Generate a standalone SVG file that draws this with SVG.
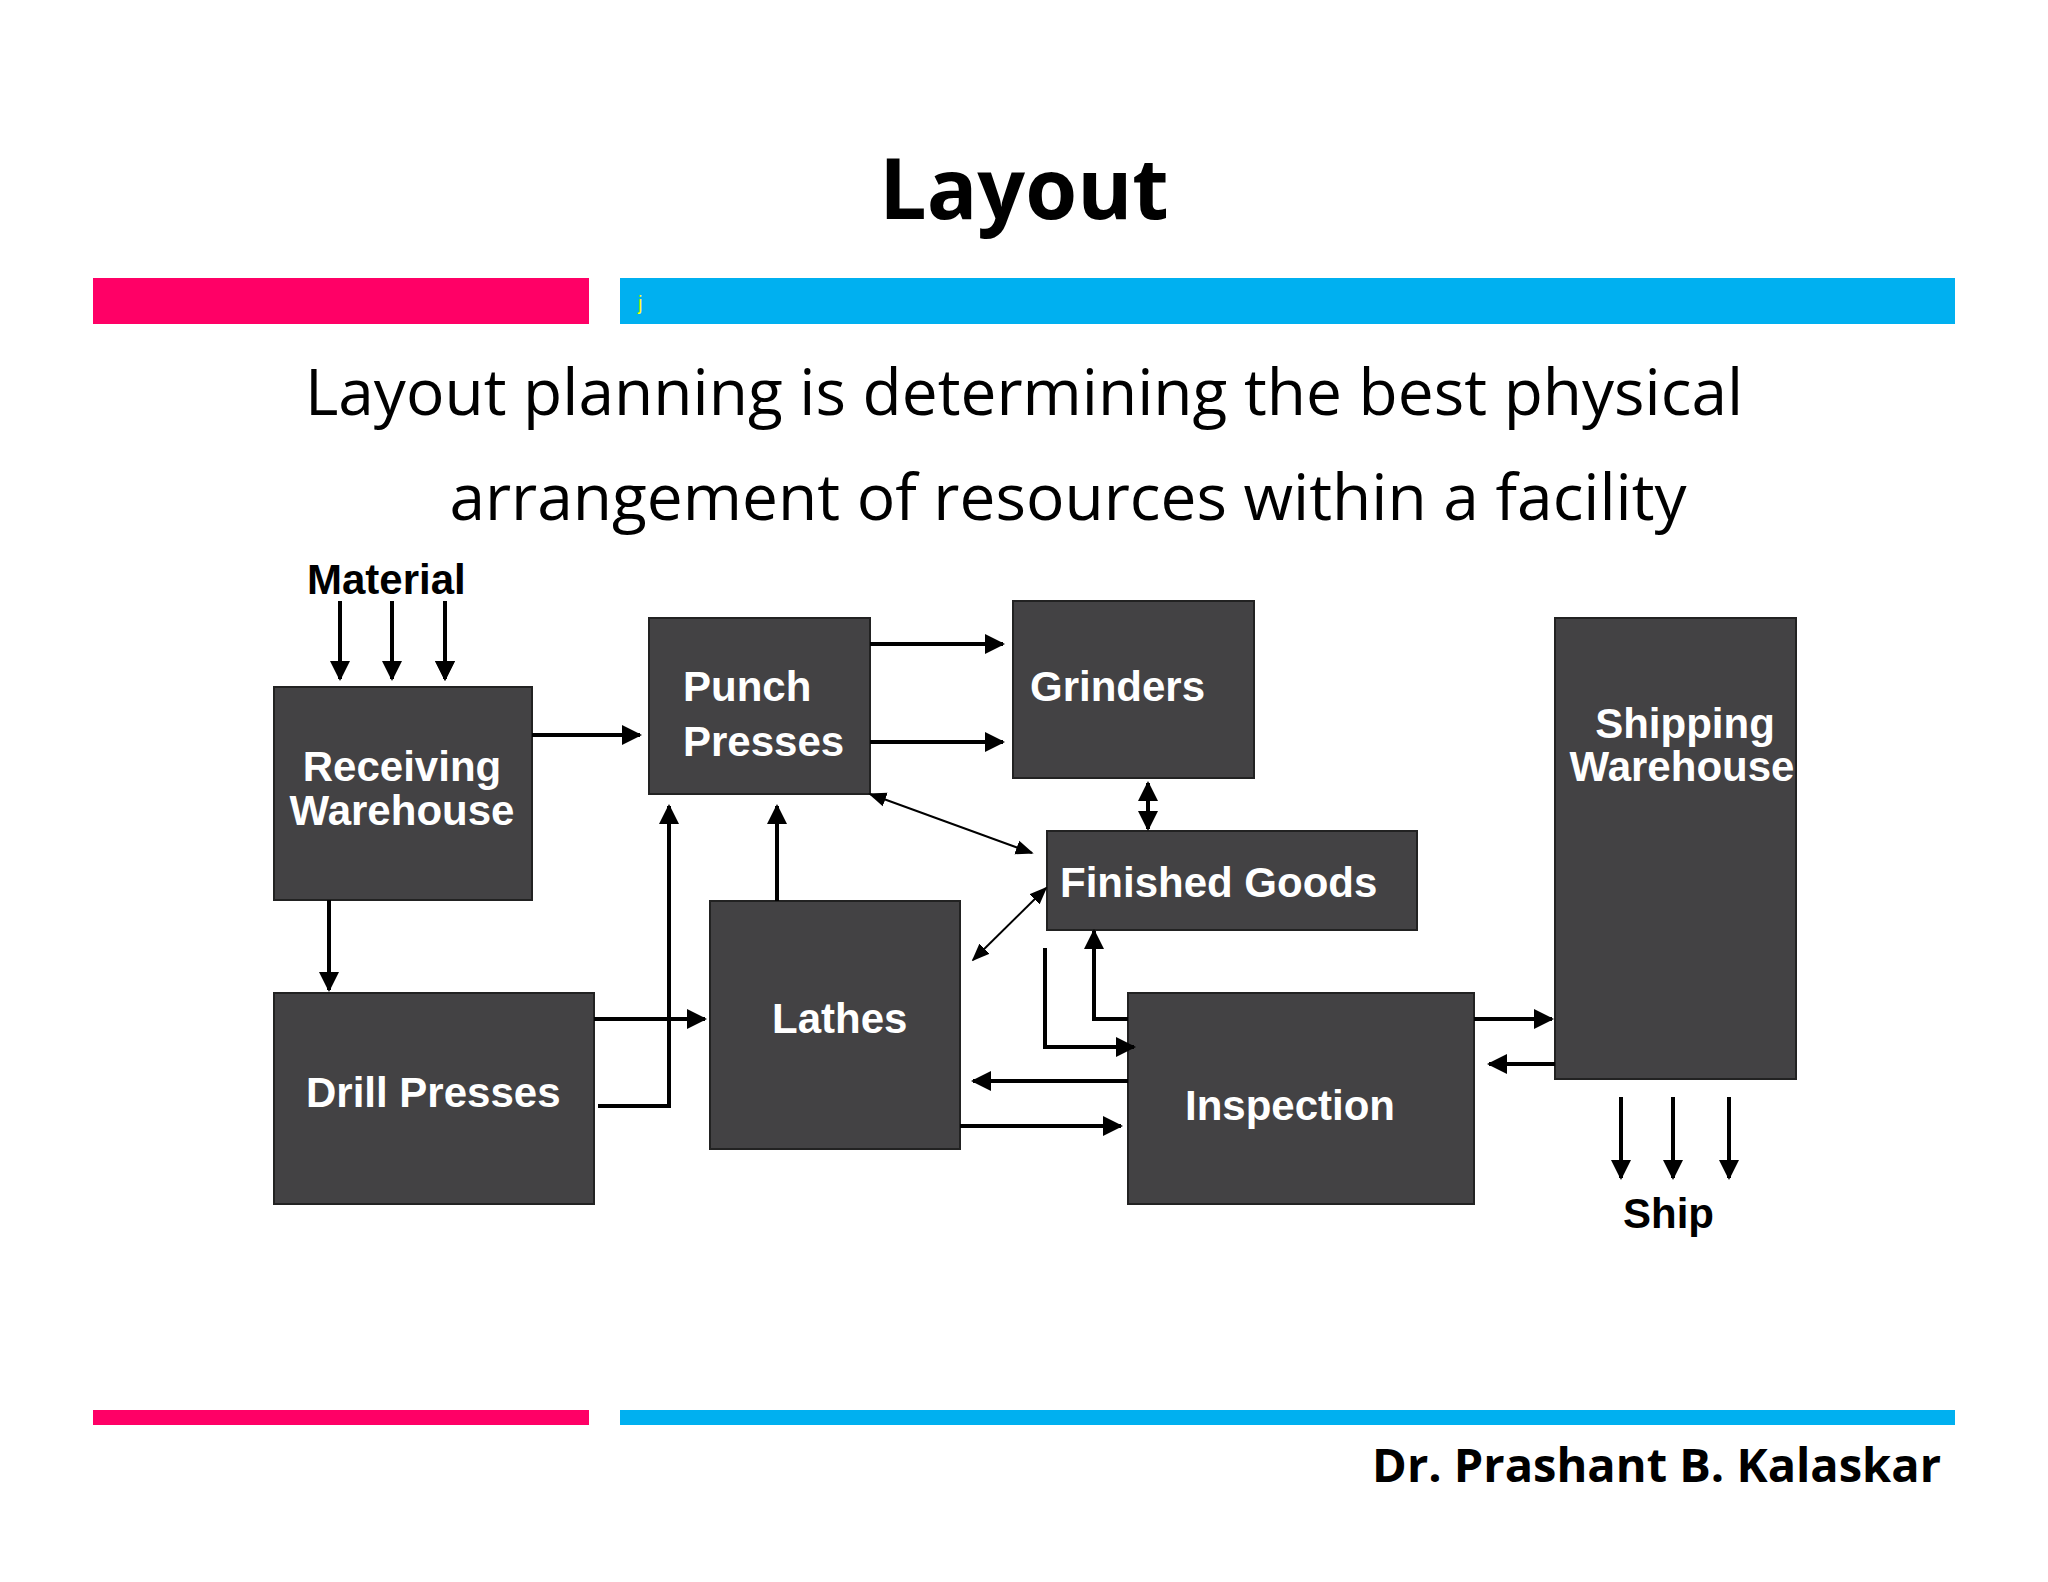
<svg xmlns="http://www.w3.org/2000/svg" width="2048" height="1582" viewBox="0 0 2048 1582">
<style>
.box{fill:#434244;stroke:#222;stroke-width:2}
.bt{fill:#fff;font-family:"Liberation Sans",Arial,sans-serif;font-weight:bold;font-size:42px}
.lt{fill:#000;font-family:"Liberation Sans",Arial,sans-serif;font-weight:bold;font-size:42px}
.c{fill:none;stroke:#000;stroke-width:4}
.t{stroke-width:2}
</style>
<defs>
<marker id="a" viewBox="0 0 10 10" refX="9" refY="5" markerWidth="5" markerHeight="5" orient="auto-start-reverse"><path d="M0,0L10,5L0,10z" fill="#000"/></marker>
<marker id="s" viewBox="0 0 10 10" refX="9" refY="5" markerWidth="9" markerHeight="9" orient="auto-start-reverse"><path d="M0,1L10,5L0,9z" fill="#000"/></marker>
</defs>
<rect width="2048" height="1582" fill="#fff"/>
<text x="1024" y="219" text-anchor="middle" font-family="'Open Sans','Noto Sans',sans-serif" font-weight="bold" font-size="84">Layout</text>
<rect x="93" y="278" width="496" height="46" fill="#ff0066"/>
<rect x="620" y="278" width="1335" height="46" fill="#00b0f0"/>
<text x="638" y="310" font-family="'Liberation Sans',sans-serif" font-size="20" fill="#ffff00">j</text>
<text x="1024" y="415" text-anchor="middle" font-family="'Open Sans','Noto Sans',sans-serif" font-size="64">Layout planning is determining the best physical</text>
<text x="1068" y="520" text-anchor="middle" font-family="'Open Sans','Noto Sans',sans-serif" font-size="64">arrangement of resources within a facility</text>
<rect x="93" y="1410" width="496" height="15" fill="#ff0066"/>
<rect x="620" y="1410" width="1335" height="15" fill="#00b0f0"/>
<text x="1941" y="1482" text-anchor="end" font-family="'Open Sans','Noto Sans',sans-serif" font-weight="bold" font-size="47">Dr. Prashant B. Kalaskar</text>
<text class="lt" x="307" y="594">Material</text>
<text class="lt" x="1623" y="1228">Ship</text>
<g id="receiving"><rect class="box" x="274" y="687" width="258" height="213"/><text class="bt" x="402" y="781" text-anchor="middle">Receiving</text><text class="bt" x="402" y="825" text-anchor="middle">Warehouse</text></g>
<g id="punch"><rect class="box" x="649" y="618" width="221" height="176"/><text class="bt" x="683" y="701">Punch</text><text class="bt" x="683" y="756">Presses</text></g>
<g id="grinders"><rect class="box" x="1013" y="601" width="241" height="177"/><text class="bt" x="1030" y="701">Grinders</text></g>
<g id="finished"><rect class="box" x="1047" y="831" width="370" height="99"/><text class="bt" x="1060" y="897">Finished Goods</text></g>
<g id="shipping"><rect class="box" x="1555" y="618" width="241" height="461"/><text class="bt" x="1685" y="738" text-anchor="middle">Shipping</text><text class="bt" x="1682" y="781" text-anchor="middle">Warehouse</text></g>
<g id="drill"><rect class="box" x="274" y="993" width="320" height="211"/><text class="bt" x="306" y="1107">Drill Presses</text></g>
<g id="lathes"><rect class="box" x="710" y="901" width="250" height="248"/><text class="bt" x="772" y="1033">Lathes</text></g>
<g id="inspection"><rect class="box" x="1128" y="993" width="346" height="211"/><text class="bt" x="1185" y="1120">Inspection</text></g>
<g id="connectors">
<path class="c" d="M340,601V679M392,601V679M445,601V679" marker-end="url(#a)"/>
<path class="c" d="M340,601V679" marker-end="url(#a)"/>
<path class="c" d="M392,601V679" marker-end="url(#a)"/>
<path class="c" d="M445,601V679" marker-end="url(#a)"/>
<path class="c" d="M532,735H640" marker-end="url(#a)"/>
<path class="c" d="M870,644H1003" marker-end="url(#a)"/>
<path class="c" d="M870,742H1003" marker-end="url(#a)"/>
<path class="c t" d="M870,794L1032,853" marker-start="url(#s)" marker-end="url(#s)"/>
<path class="c" d="M1148,783V829" marker-start="url(#a)" marker-end="url(#a)"/>
<path class="c" d="M329,900V990" marker-end="url(#a)"/>
<path class="c" d="M594,1019H705" marker-end="url(#a)"/>
<path class="c" d="M598,1106H669V806" marker-end="url(#a)"/>
<path class="c" d="M777,901V806" marker-end="url(#a)"/>
<path class="c t" d="M973,960L1046,888" marker-start="url(#s)" marker-end="url(#s)"/>
<path class="c" d="M1045,948V1047H1134" marker-end="url(#a)"/>
<path class="c" d="M1128,1019H1094V931" marker-end="url(#a)"/>
<path class="c" d="M1128,1081H973" marker-end="url(#a)"/>
<path class="c" d="M960,1126H1121" marker-end="url(#a)"/>
<path class="c" d="M1474,1019H1552" marker-end="url(#a)"/>
<path class="c" d="M1555,1064H1489" marker-end="url(#a)"/>
<path class="c" d="M1621,1097V1178" marker-end="url(#a)"/>
<path class="c" d="M1673,1097V1178" marker-end="url(#a)"/>
<path class="c" d="M1729,1097V1178" marker-end="url(#a)"/>
</g>
</svg>
